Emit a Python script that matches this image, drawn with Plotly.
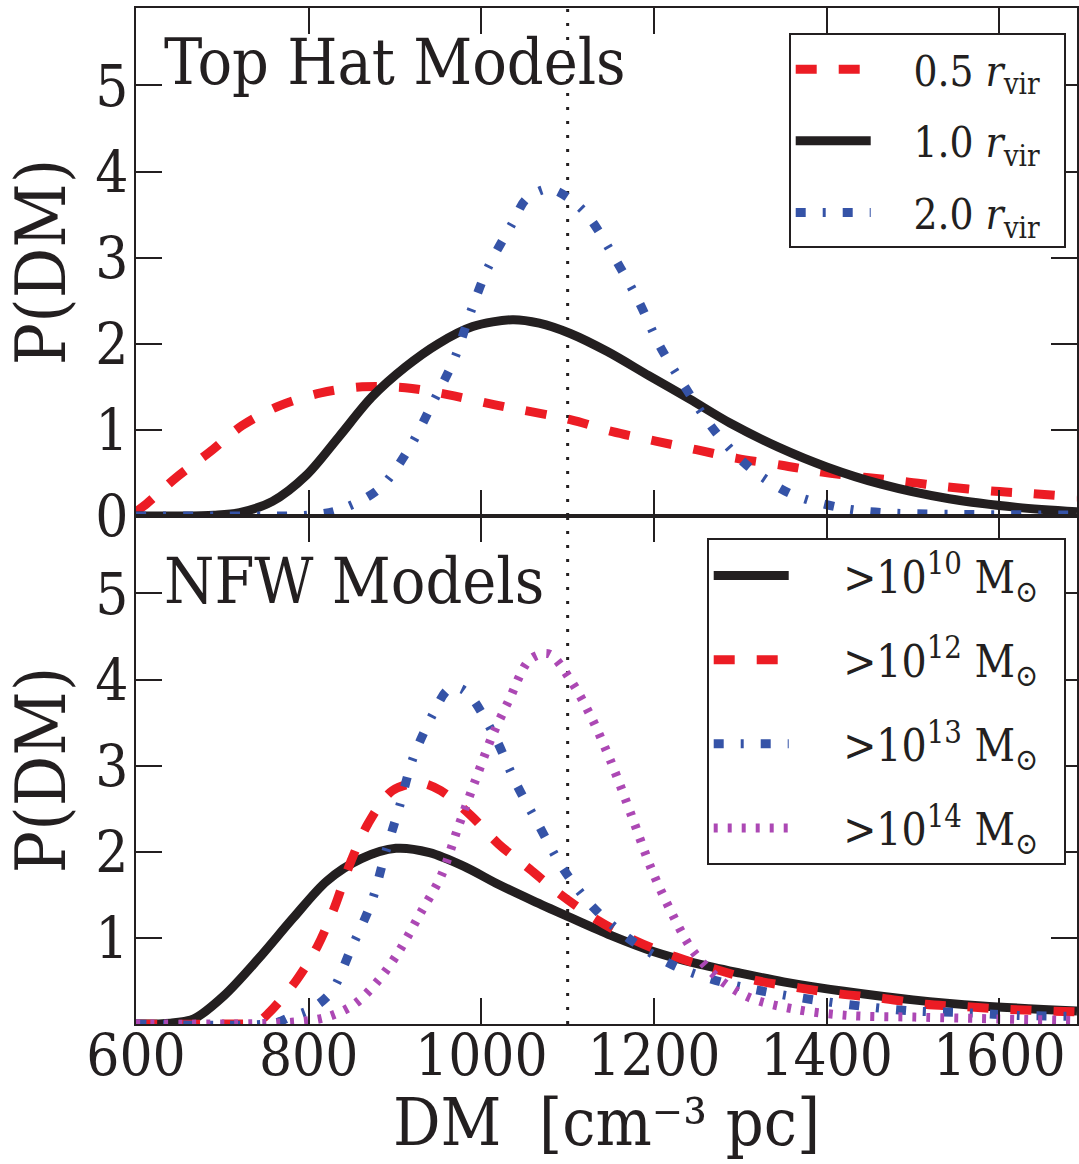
import plotly.graph_objects as go
from plotly.subplots import make_subplots

# ---------------- data ----------------
DM_REF = 1100
X_RANGE = [600, 1690]
Y_RANGE = [0, 5.9]

# Top Hat models
th05_x = [600, 612, 647, 685, 723, 766, 814, 862, 912, 961, 1016, 1103, 1152, 1202, 1249,
          1296, 1348, 1395, 1443, 1491, 1538, 1590, 1638, 1690]
th05_y = [0.05, 0.14, 0.45, 0.74, 1.05, 1.28, 1.43, 1.50, 1.49, 1.41, 1.29, 1.12, 0.98, 0.87,
          0.77, 0.67, 0.59, 0.51, 0.45, 0.40, 0.34, 0.29, 0.26, 0.22]

th10_x = [600, 650, 690, 720, 758, 797, 835, 873, 912, 950, 990, 1036, 1067, 1103, 1146,
          1194, 1241, 1288, 1344, 1400, 1463, 1542, 1621, 1690]
th10_y = [0.0, 0.0, 0.01, 0.04, 0.17, 0.47, 0.92, 1.38, 1.73, 2.00, 2.20, 2.28, 2.24, 2.12,
          1.91, 1.63, 1.36, 1.08, 0.80, 0.57, 0.37, 0.20, 0.10, 0.05]

th20_x = [600, 700, 770, 800, 832, 881, 916, 943, 969, 988, 1008, 1036, 1052, 1078, 1103,
          1124, 1156, 1182, 1207, 1237, 1271, 1310, 1358, 1414, 1463, 1550, 1690]
th20_y = [0.0, 0.0, 0.0, 0.01, 0.06, 0.31, 0.78, 1.30, 1.83, 2.38, 2.89, 3.40, 3.68, 3.80,
          3.68, 3.48, 2.97, 2.50, 1.97, 1.48, 0.98, 0.57, 0.26, 0.10, 0.04, 0.02, 0.01]

# NFW models
n10_x = [600, 640, 667, 702, 742, 782, 821, 861, 901, 940, 980, 1020, 1060, 1100, 1150,
         1200, 1250, 1300, 1350, 1420, 1500, 1580, 1690]
n10_y = [0.0, 0.01, 0.06, 0.33, 0.76, 1.23, 1.66, 1.92, 2.04, 1.99, 1.83, 1.62, 1.43, 1.25,
         1.03, 0.84, 0.70, 0.59, 0.49, 0.38, 0.28, 0.21, 0.15]

n12_x = [600, 700, 740, 754, 786, 810, 829, 849, 869, 897, 929, 953, 988, 1020, 1056, 1091,
         1134, 1178, 1225, 1273, 1316, 1368, 1415, 1463, 1514, 1562, 1610, 1690]
n12_y = [0.0, 0.0, 0.02, 0.13, 0.51, 0.90, 1.33, 1.89, 2.33, 2.71, 2.80, 2.71, 2.42, 2.09,
         1.80, 1.51, 1.21, 0.97, 0.78, 0.63, 0.51, 0.42, 0.35, 0.30, 0.23, 0.20, 0.17, 0.14]

n13_x = [600, 760, 778, 802, 826, 849, 873, 889, 905, 921, 945, 961, 975, 988, 1016, 1040,
         1067, 1095, 1130, 1174, 1225, 1277, 1332, 1392, 1447, 1502, 1562, 1621, 1690]
n13_y = [0.0, 0.01, 0.08, 0.17, 0.37, 0.87, 1.42, 1.99, 2.52, 3.09, 3.62, 3.88, 3.90, 3.80,
         3.33, 2.80, 2.30, 1.80, 1.35, 0.97, 0.67, 0.49, 0.37, 0.27, 0.20, 0.15, 0.13, 0.10, 0.09]

n14_x = [600, 780, 821, 853, 881, 905, 929, 953, 973, 992, 1012, 1032, 1056, 1078, 1103,
         1127, 1150, 1174, 1197, 1221, 1245, 1277, 1312, 1364, 1423, 1502, 1690]
n14_y = [0.0, 0.02, 0.08, 0.23, 0.51, 0.85, 1.28, 1.71, 2.28, 2.80, 3.33, 3.76, 4.23, 4.30,
         4.00, 3.57, 3.05, 2.42, 1.80, 1.28, 0.85, 0.51, 0.30, 0.17, 0.10, 0.08, 0.04]

GAP_T = "\u2002\u2002"
GAP_B = "\u2002\u2002\u2005"
END = "\u2002"
top_names = [GAP_T + "0.5 <i>r</i><sub>vir</sub>" + END, GAP_T + "1.0 <i>r</i><sub>vir</sub>" + END,
             GAP_T + "2.0 <i>r</i><sub>vir</sub>" + END]
bot_names = [GAP_B + ">10<sup>10</sup> M<sub>⊙</sub>" + END, GAP_B + ">10<sup>12</sup> M<sub>⊙</sub>" + END,
             GAP_B + ">10<sup>13</sup> M<sub>⊙</sub>" + END, GAP_B + ">10<sup>14</sup> M<sub>⊙</sub>" + END]

x_ticks = [600, 800, 1000, 1200, 1400, 1600]
top_y_ticks = [0, 1, 2, 3, 4, 5]
bot_y_ticks = [1, 2, 3, 4, 5]

x_title = "DM  [cm\u207b\u00b3 pc]"
y_title = "P(DM)"

# ---------------- styles ----------------
RED = "#ec1c24"
BLACK = "#231f20"
BLUE = "#3553a7"
PURPLE = "#ac48b4"
FONT = "DejaVu Serif Condensed, DejaVu Serif"

red_line = dict(color=RED, width=9, dash="21px,22px")
black_line = dict(color=BLACK, width=9)
blue_line = dict(color=BLUE, width=9, dash="10px,17px,3px,17px")
purple_line = dict(color=PURPLE, width=9, dash="4px,10px")

fig = make_subplots(rows=2, cols=1, shared_xaxes=True, vertical_spacing=0)


def add(x, y, name, line, row, legend, group):
    fig.add_trace(go.Scatter(x=x, y=y, mode="lines", name=name,
                             line=dict(shape="spline", smoothing=0.9, **line),
                             legend=legend, legendgroup=group), row=row, col=1)


# reference line
for r in (1, 2):
    fig.add_trace(go.Scatter(x=[DM_REF, DM_REF], y=Y_RANGE, mode="lines", showlegend=False,
                             line=dict(color=BLACK, width=3, dash="3px,11px")), row=r, col=1)

add(th05_x, th05_y, top_names[0], red_line, 1, "legend", "a")
add(th10_x, th10_y, top_names[1], black_line, 1, "legend", "b")
add(th20_x, th20_y, top_names[2], blue_line, 1, "legend", "c")

add(n10_x, n10_y, bot_names[0], black_line, 2, "legend2", "d")
add(n12_x, n12_y, bot_names[1], red_line, 2, "legend2", "e")
add(n13_x, n13_y, bot_names[2], blue_line, 2, "legend2", "f")
add(n14_x, n14_y, bot_names[3], purple_line, 2, "legend2", "g")

axis_common = dict(showline=True, linecolor=BLACK, linewidth=2, mirror="ticks", ticks="inside",
                   ticklen=26, tickwidth=2, tickcolor=BLACK, showgrid=False, zeroline=False,
                   tickfont=dict(family=FONT, size=58, color=BLACK))

fig.update_xaxes(range=X_RANGE, tickvals=x_ticks, **axis_common)
fig.update_xaxes(showticklabels=False, row=1, col=1)
fig.update_xaxes(ticklabelstandoff=-21, row=2, col=1)
fig.update_yaxes(range=Y_RANGE, ticklabelstandoff=-6,
                 title=dict(text=y_title, font=dict(family=FONT, size=70, color=BLACK), standoff=24),
                 **axis_common)
fig.update_yaxes(tickvals=top_y_ticks, row=1, col=1)
fig.update_yaxes(tickvals=bot_y_ticks, row=2, col=1)

# x-axis title placed at the bottom of the figure
fig.add_annotation(text=x_title, xref="x2 domain", yref="paper", x=0.5, y=-0.1368,
                   xanchor="center", yanchor="bottom", showarrow=False,
                   font=dict(family=FONT, size=66, color=BLACK))

fig.add_annotation(text="Top Hat Models", xref="x domain", yref="y domain", x=0.028, y=0.971,
                   xanchor="left", yanchor="top", showarrow=False,
                   font=dict(family=FONT, size=64, color=BLACK))
fig.add_annotation(text="NFW Models", xref="x2 domain", yref="y2 domain", x=0.028, y=0.949,
                   xanchor="left", yanchor="top", showarrow=False,
                   font=dict(family=FONT, size=64, color=BLACK))

legend_common = dict(bgcolor="white", bordercolor=BLACK, borderwidth=2,
                     itemwidth=75, xanchor="right", yanchor="top")

fig.update_layout(
    width=1079, height=1164,
    margin=dict(l=136, r=0, t=8, b=140),
    paper_bgcolor="white", plot_bgcolor="white",
    showlegend=True,
    legend=dict(x=0.988, y=0.975, yref="paper", tracegroupgap=14,
                font=dict(family=FONT, size=42, color=BLACK), **legend_common),
    legend2=dict(x=0.988, y=0.478, yref="paper", tracegroupgap=24,
                 font=dict(family=FONT, size=44, color=BLACK), **legend_common),
)

fig.write_html("out.html")
